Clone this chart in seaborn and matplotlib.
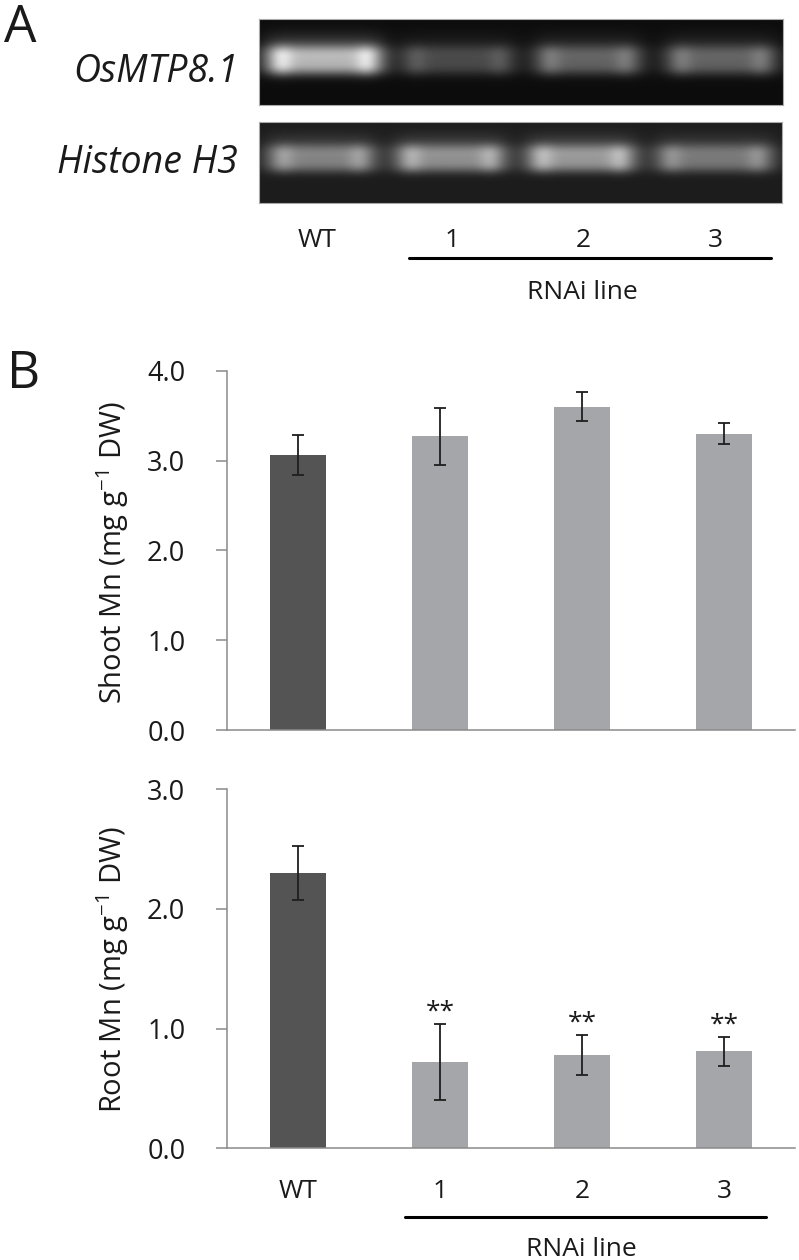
import numpy as np
import pandas as pd
import seaborn as sns
import matplotlib
matplotlib.use("Agg")
import matplotlib.pyplot as plt
from matplotlib.lines import Line2D

sns.set_theme(style="white")
plt.rcParams['font.family'] = ['Open Sans', 'DejaVu Sans']
plt.rcParams['mathtext.fontset'] = 'custom'
plt.rcParams['mathtext.rm'] = 'Open Sans'
plt.rcParams['mathtext.it'] = 'Open Sans:italic'
plt.rcParams['mathtext.default'] = 'regular'

# data
lines = ['WT', '1', '2', '3']
shoot_mn = [3.06, 3.27, 3.60, 3.30]
shoot_err = [0.22, 0.32, 0.165, 0.12]
root_mn = [2.30, 0.72, 0.78, 0.81]
root_err = [0.225, 0.32, 0.165, 0.12]
root_sig = ['', '**', '**', '**']

gel_genes = ['OsMTP8.1', 'Histone H3']
mtp_band = [0.86, 0.34, 0.46, 0.46]
h3_band = [0.60, 0.66, 0.70, 0.55]

W, H = 799, 1260
TXT = '#1a1a1a'
GRID = '#8a8a8a'
DARK = '#545454'
LIGHT = '#a5a6a9'

fig = plt.figure(figsize=(W / 100, H / 100), dpi=100)


def box(x0, y0, x1, y1):
    return [x0 / W, 1 - y1 / H, (x1 - x0) / W, (y1 - y0) / H]


def ftext(x, y, s, **kw):
    kw.setdefault('color', TXT)
    return fig.text(x / W, 1 - y / H, s, **kw)


def hline(x0, x1, y, lw=2.2):
    fig.add_artist(Line2D([x0 / W, x1 / W], [1 - y / H] * 2, color='black', lw=lw))


# ---- panel A: gel ----
def gel_image(levels, lanes, bg, h, w, yc, ys):
    yy, xx = np.mgrid[0:h, 0:w]
    xx = (xx + 0.5) / w
    yy = (yy + 0.5) / h
    img = np.full((h, w), bg, dtype=float)
    for lev, (a, b) in zip(levels, lanes):
        e = 0.012
        px = 1 / (1 + np.exp(-(xx - a) / e)) / (1 + np.exp((xx - b) / e))
        ends = 0.8 + 0.28 * np.exp(-((xx - a - 0.03) / 0.022) ** 2) \
            + 0.28 * np.exp(-((xx - b + 0.03) / 0.022) ** 2)
        py = np.exp(-np.abs((yy - yc) / ys) ** 3)
        haze = 0.18 * np.exp(-((yy - yc + 0.2) / 0.14) ** 2)
        img += (lev - bg) * px * (ends * py + haze)
    return np.clip(img, 0, 1)


gel_boxes = [(259, 19, 783, 105), (259, 122, 782, 203)]
gel_lanes = [
    [(0.012, 0.237), (0.269, 0.49), (0.525, 0.731), (0.775, 0.989)],
    [(0.015, 0.223), (0.26, 0.473), (0.511, 0.721), (0.758, 0.985)],
]
gel_levels = [mtp_band, h3_band]
gel_bg = [0.05, 0.11]
gel_yc = [0.48, 0.45]
label_base = [82, 173]

for i, (x0, y0, x1, y1) in enumerate(gel_boxes):
    gax = fig.add_axes(box(x0, y0, x1, y1))
    img = gel_image(gel_levels[i], gel_lanes[i], gel_bg[i], y1 - y0, x1 - x0, gel_yc[i], 0.17)
    gax.imshow(img, cmap='gray', vmin=0, vmax=1, aspect='auto',
               extent=[0, 1, 1, 0], interpolation='bilinear')
    gax.set_xticks([])
    gax.set_yticks([])
    for sp in gax.spines.values():
        sp.set_color('#aaaaaa')
        sp.set_linewidth(0.8)
    ftext(238, label_base[i], gel_genes[i], fontsize=27, style='italic',
          ha='right', va='baseline')

for lab, x in zip(lines, [317, 452, 583, 715]):
    ftext(x, 247, lab, fontsize=19, ha='center', va='baseline')
hline(409, 771, 258)
ftext(582, 299, 'RNAi line', fontsize=19, ha='center', va='baseline')

ftext(4, 42, 'A', fontsize=37, ha='left', va='baseline')
ftext(7, 388, 'B', fontsize=37, ha='left', va='baseline')


# ---- panel B: bars ----
def bar_panel(ax, vals, errs, ymax, show_labels):
    df = pd.DataFrame({'line': lines, 'mn': vals})
    sns.barplot(data=df, x='line', y='mn', hue='line',
                palette=[DARK, LIGHT, LIGHT, LIGHT], width=0.4,
                saturation=1, linewidth=0, legend=False, errorbar=None, ax=ax)
    ax.errorbar(range(len(lines)), vals, yerr=errs, fmt='none',
                ecolor='#1e1e1e', elinewidth=1.3, capsize=4, capthick=1.3)
    ax.set_xlim(-0.5, len(lines) - 0.5)
    ax.set_ylim(0, ymax)
    ax.set_yticks(np.arange(0, ymax + 0.01, 1.0))
    ax.set_yticklabels([f'{v:.1f}' for v in np.arange(0, ymax + 0.01, 1.0)])
    ax.set_xticks(np.arange(-0.5, len(lines), 1.0), minor=True)
    ax.tick_params(axis='x', which='major', length=0, pad=22,
                   labelsize=19, labelcolor=TXT)
    ax.tick_params(axis='x', which='minor', length=7.5, width=1.1,
                   color=GRID, direction='out')
    ax.tick_params(axis='y', length=8, width=1.1, color=GRID, direction='out',
                   pad=22, labelsize=19.5, labelcolor=TXT, left=True)
    if not show_labels:
        ax.set_xticklabels([])
    ax.set_xlabel('')
    ax.set_ylabel('')
    sns.despine(ax=ax)
    for sp in ['left', 'bottom']:
        ax.spines[sp].set_color(GRID)
        ax.spines[sp].set_linewidth(1.1)


ax1 = fig.add_axes(box(227, 370.7, 795, 730))
bar_panel(ax1, shoot_mn, shoot_err, 4.0, False)
ftext(113, 553, 'Shoot Mn (mg g$^{-1}$ DW)', fontsize=21, rotation=90,
      ha='center', va='center')

ax2 = fig.add_axes(box(227, 789.3, 795, 1148.3))
bar_panel(ax2, root_mn, root_err, 3.0, True)
ftext(113, 970, 'Root Mn (mg g$^{-1}$ DW)', fontsize=21, rotation=90,
      ha='center', va='center')
for i, s in enumerate(root_sig):
    if s:
        ax2.annotate(s, (i, root_mn[i] + root_err[i]), xytext=(0, 4),
                     textcoords='offset points', ha='center', va='baseline',
                     fontsize=19, color=TXT)

hline(405, 766, 1217)
ftext(581, 1237, 'RNAi line', fontsize=19, ha='center', va='top')

fig.savefig('out.png', dpi=100)
